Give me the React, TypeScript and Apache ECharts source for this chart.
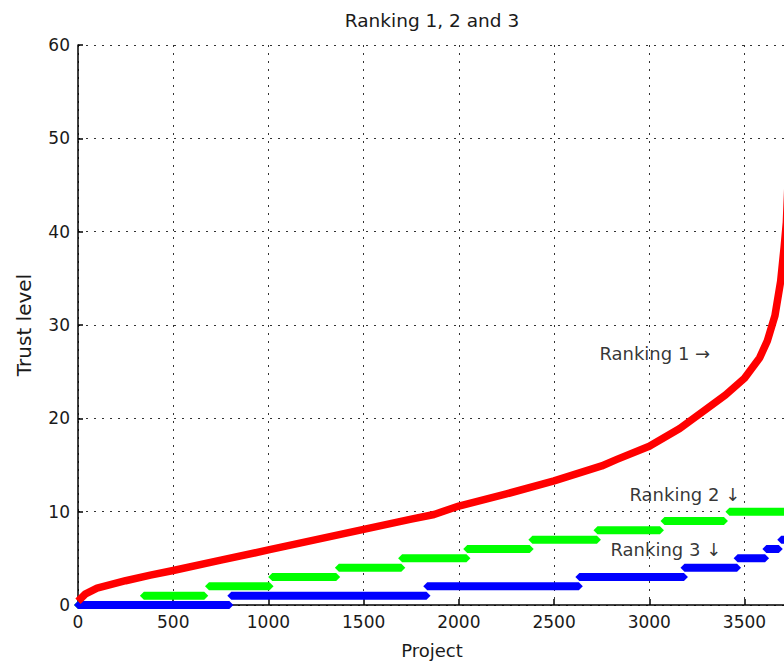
import { useEffect, useRef } from "react";
import * as echarts from "echarts";

// Ranking 1: sorted trust level per project (continuous curve)
const rankingOneX = [0, 40, 100, 250, 380, 500, 750, 1000, 1250, 1500, 1750, 1870, 2000, 2250, 2500, 2750, 2830, 3000, 3160, 3300, 3400, 3500, 3580, 3620, 3660, 3690, 3708, 3720, 3732, 3745];
const rankingOneY = [0.4, 1.2, 1.8, 2.6, 3.2, 3.7, 4.8, 5.9, 7.0, 8.1, 9.2, 9.7, 10.6, 11.9, 13.3, 14.9, 15.6, 17.0, 18.9, 21.0, 22.5, 24.3, 26.5, 28.3, 31.0, 34.7, 38.3, 41, 47, 58];

// Ranking 2: integer trust levels, first and last project holding each level
const rankingTwoLevels = [0, 1, 2, 3, 4, 5, 6, 7, 8, 9, 10];
const rankingTwoFirst = [0, 346, 688, 1020, 1370, 1702, 2044, 2386, 2728, 3080, 3421];
const rankingTwoLast = [320, 663, 1006, 1356, 1698, 2040, 2372, 2725, 3056, 3392, 3740];

// Ranking 3: integer trust levels, first and last project holding each level
const rankingThreeLevels = [0, 1, 2, 3, 4, 5, 6, 7];
const rankingThreeFirst = [0, 805, 1834, 2633, 3185, 3464, 3615, 3693];
const rankingThreeLast = [795, 1830, 2630, 3182, 3461, 3608, 3680, 3740];

// Text annotations: [x, y, text]
const annotationX = [2738, 2896, 2796];
const annotationY = [27.0, 11.85, 6.0];
const annotationText = ["Ranking 1 \u2192", "Ranking 2 \u2193", "Ranking 3 \u2193"];

const FONT = "DejaVu Sans";
const TEXT = "#1a1a1a";

function stepSeries(name: string, color: string, z: number, levels: number[], first: number[], last: number[]) {
  return {
    name,
    type: "custom",
    clip: false,
    z,
    encode: { x: [1, 2], y: 0 },
    data: levels.map((lv, i) => [lv, first[i], last[i]]),
    renderItem: (_params: any, api: any) => {
      const lv = api.value(0);
      const p1 = api.coord([api.value(1), lv]);
      const p2 = api.coord([api.value(2), lv]);
      const h = 4;
      const tip = 4;
      return {
        type: "polygon",
        shape: {
          points: [
            [p1[0] - tip, p1[1]],
            [p1[0], p1[1] - h],
            [p2[0], p2[1] - h],
            [p2[0] + tip, p2[1]],
            [p2[0], p2[1] + h],
            [p1[0], p1[1] + h],
          ],
        },
        style: { fill: color },
      };
    },
  };
}

export default function App() {
  const ref = useRef<HTMLDivElement>(null);

  useEffect(() => {
    if (!ref.current) return;
    const chart = echarts.init(ref.current, null, { renderer: "svg" });
    const gridDots = { color: "#333", width: 1, type: [2, 6] as number[] };
    chart.setOption({
      animation: false,
      backgroundColor: "#ffffff",
      grid: { left: 78, right: 0, top: 45, bottom: 58.5, containLabel: false },
      graphic: [
        {
          type: "text",
          x: 432,
          y: 20,
          style: {
            text: "Ranking 1, 2 and 3",
            font: `18.5px "${FONT}"`,
            fill: TEXT,
            textAlign: "center",
            textVerticalAlign: "middle",
          },
        },
      ],
      xAxis: {
        type: "value",
        min: 0,
        max: 3760,
        interval: 500,
        name: "Project",
        nameLocation: "middle",
        nameGap: 36,
        nameTextStyle: { fontFamily: FONT, fontSize: 18, color: TEXT, padding: [0, 8, 0, 0] },
        axisLine: { show: true, onZero: false, lineStyle: { color: "#000", width: 1.5 } },
        axisTick: { show: true, inside: true, length: 6, lineStyle: { color: "#000", width: 1.5 } },
        axisLabel: {
          fontFamily: FONT,
          fontSize: 17,
          color: TEXT,
          margin: 8,
          showMaxLabel: false,
          formatter: (v: number) => String(v),
        },
        splitLine: { show: true, lineStyle: gridDots },
      },
      yAxis: {
        type: "value",
        min: 0,
        max: 60,
        interval: 10,
        name: "Trust level",
        nameLocation: "middle",
        nameGap: 44,
        nameTextStyle: { fontFamily: FONT, fontSize: 20, color: TEXT },
        axisLine: { show: true, lineStyle: { color: "#000", width: 1.5 } },
        axisTick: { show: true, inside: true, length: 5, lineStyle: { color: "#000", width: 1.5 } },
        axisLabel: { fontFamily: FONT, fontSize: 17, color: TEXT, margin: 8, formatter: (v: number) => String(v) },
        splitLine: { show: true, lineStyle: gridDots },
      },
      series: [
        stepSeries("Ranking 2", "#00ff00", 2, rankingTwoLevels, rankingTwoFirst, rankingTwoLast),
        stepSeries("Ranking 3", "#0000ff", 3, rankingThreeLevels, rankingThreeFirst, rankingThreeLast),
        {
          name: "Ranking 1",
          type: "line",
          z: 4,
          clip: false,
          showSymbol: false,
          data: rankingOneX.map((x, i) => [x, rankingOneY[i]]),
          lineStyle: { color: "#ff0000", width: 7.5, join: "round" },
        },
        {
          name: "annotations",
          type: "scatter",
          z: 5,
          silent: true,
          symbolSize: 0,
          data: annotationX.map((x, i) => ({ value: [x, annotationY[i]], name: annotationText[i] })),
          label: {
            show: true,
            position: "right",
            distance: 0,
            formatter: (p: any) => p.name,
            fontFamily: FONT,
            fontSize: 18,
            color: "#000",
          },
        },
      ],
    });
    return () => chart.dispose();
  }, []);

  return (
    <div
      style={{
        position: "fixed",
        left: 0,
        top: 0,
        width: 784,
        height: 664,
        overflow: "hidden",
        background: "#fff",
      }}
    >
      <div ref={ref} style={{ width: 794, height: 664 }} />
    </div>
  );
}
